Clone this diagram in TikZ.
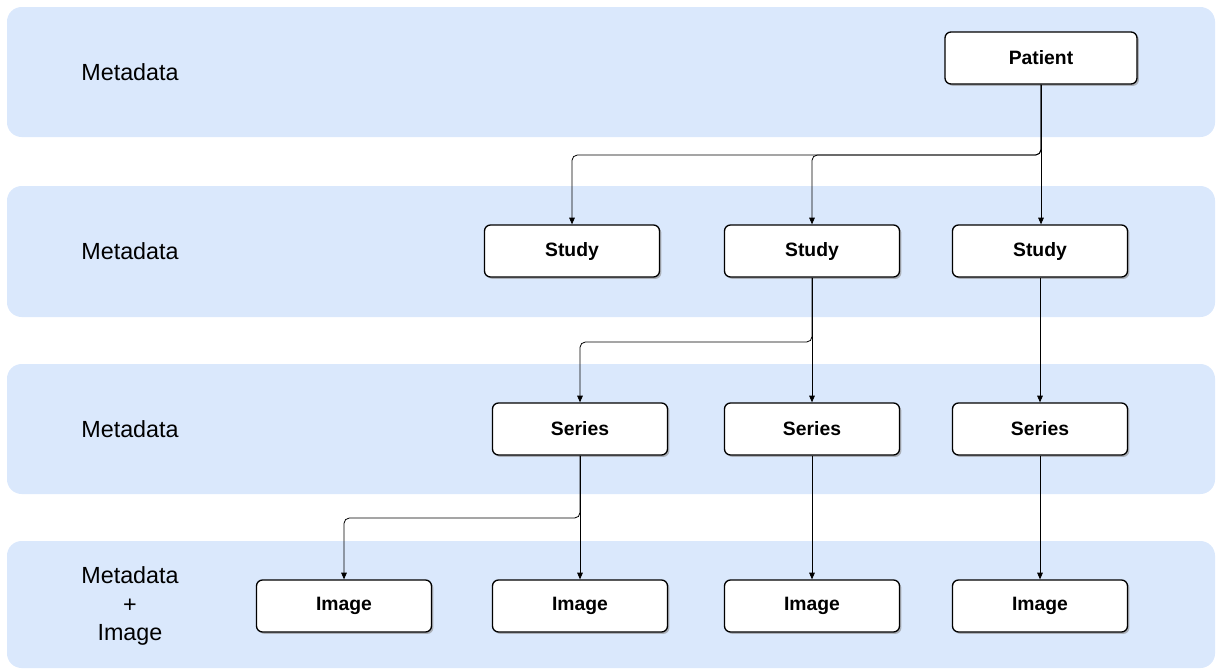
\documentclass[tikz,border=0pt]{standalone}
\usepackage{fontspec}
\setmainfont{Liberation Sans}
\usetikzlibrary{arrows.meta, shadows}
\definecolor{lanefill}{RGB}{218,232,252}
\definecolor{ink}{RGB}{0,0,0}

\begin{document}
\begin{tikzpicture}[x=0.75pt, y=-0.75pt,
    lane/.style={fill=lanefill, draw=none, rounded corners=11pt},
    lbl/.style={font=\fontsize{17.5}{20.5}\selectfont, text=ink, align=center},
    box/.style={draw=ink, fill=white, line width=1pt, rounded corners=4.5pt,
                minimum width=131.25pt, minimum height=39pt, inner sep=0pt,
                font=\fontsize{14.5}{16}\selectfont\bfseries,
                drop shadow={shadow xshift=1.4pt, shadow yshift=-1.4pt, fill=black!45, opacity=0.6}},
    link/.style={-{Triangle[length=5pt, width=4.2pt]}, draw=ink, line width=0.6pt, rounded corners=4pt}
  ]
  \useasboundingbox (0,0) rectangle (1216,669);
  \def\ra{58} \def\rb{251} \def\rc{429} \def\rd{606}
  % lanes
  \foreach \t/\b in {7/137, 186/317, 364/494, 541/668} {
      \fill[lane] (7,\t) rectangle (1215,\b);
  }
  \node[lbl] (l1) at (130,72) {Metadata};
  \node[lbl] (l2) at (130,\rb) {Metadata};
  \node[lbl] (l3) at (130,\rc) {Metadata};
  \node[lbl] (l4) at (130,\rd) {Metadata\\[1pt]+\\[1pt]Image};

  % boxes
  \node[box, minimum width=144pt] (pat) at (1041,\ra) {Patient};
  \node[box] (st1) at (572,\rb) {Study};
  \node[box] (st2) at (812,\rb) {Study};
  \node[box] (st3) at (1040,\rb) {Study};
  \node[box] (se1) at (580,\rc) {Series};
  \node[box] (se2) at (812,\rc) {Series};
  \node[box] (se3) at (1040,\rc) {Series};
  \node[box] (im1) at (344,\rd) {Image};
  \node[box] (im2) at (580,\rd) {Image};
  \node[box] (im3) at (812,\rd) {Image};
  \node[box] (im4) at (1040,\rd) {Image};

  % junctions
  \coordinate (jp) at (1041,155);
  \coordinate (js) at (812,342);
  \coordinate (je) at (580,518);

  % links
  \draw[link] (pat.south) -- (pat.south |- st3.north);
  \draw[link] (pat.south) -- (jp) -| (st1.north);
  \draw[link] (pat.south) -- (jp) -| (st2.north);
  \draw[link] (st2.south) -- (se2.north);
  \draw[link] (st2.south) -- (js) -| (se1.north);
  \draw[link] (st3.south) -- (se3.north);
  \draw[link] (se1.south) -- (im2.north);
  \draw[link] (se1.south) -- (je) -| (im1.north);
  \draw[link] (se2.south) -- (im3.north);
  \draw[link] (se3.south) -- (im4.north);
\end{tikzpicture}
\end{document}
